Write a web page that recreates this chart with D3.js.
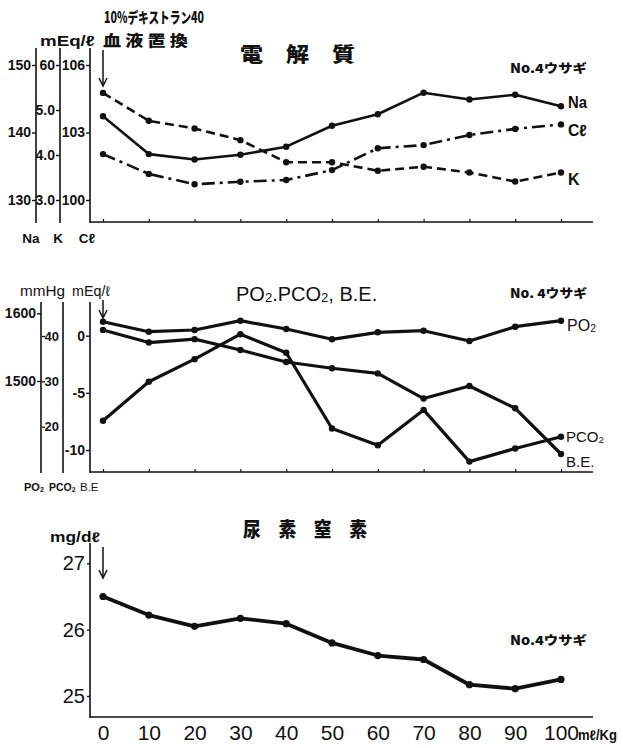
<!DOCTYPE html>
<html>
<head>
<meta charset="utf-8">
<script src="https://cdn.jsdelivr.net/npm/d3@7"></script>
<style>
  html, body { margin: 0; padding: 0; background: #fff; }
  svg { display: block; }
  text { fill: #111; }
</style>
</head>
<body>
<svg id="chart" width="623" height="748"></svg>
<script>
// Infusion volume of 10% dextran 40 (ml/kg), rabbit No.4
const doses = [0, 10, 20, 30, 40, 50, 60, 70, 80, 90, 100];

// Electrolytes (mEq/l)
const naValues = [142.4, 136.8, 136.0, 136.7, 137.9, 141.0, 142.7, 145.9, 144.9, 145.6, 143.9];
const kValues  = [5.38, 4.76, 4.59, 4.33, 3.84, 3.84, 3.65, 3.74, 3.61, 3.41, 3.61];
const clValues = [102.04, 101.16, 100.70, 100.81, 100.89, 101.33, 102.30, 102.44, 102.89, 103.16, 103.36];

// Blood gases
const po2Values  = [1587.6, 1572.8, 1575.3, 1589.1, 1576.8, 1561.6, 1571.9, 1574.3, 1559.1, 1580.2, 1589.1];
const pco2Values = [21.3, 29.9, 34.9, 40.4, 36.3, 19.6, 15.9, 23.7, 12.3, 15.2, 17.8];
const beValues   = [0.5, -0.6, -0.3, -1.25, -2.3, -2.85, -3.3, -5.5, -4.4, -6.35, -10.35];

// Blood urea nitrogen (mg/dl)
const bunValues = [26.5, 26.22, 26.05, 26.17, 26.09, 25.8, 25.61, 25.55, 25.17, 25.11, 25.25];

// Tick labels
const naTicks = [130, 140, 150];
const kTicks = [3, 4, 5, 6];
const kTickLabels = ["3.0", "4.0", "5.0", "60"];
const clTicks = [100, 103, 106];
const po2Ticks = [1500, 1600];
const pco2Ticks = [20, 30, 40];
const beTicks = [-10, -5, 0];
const beTickLabels = ["-10", "-5", "0"];
const bunTicks = [25, 26, 27];
const xTickLabels = ["0", "10", "20", "30", "40", "50", "60", "70", "80", "90", "100"];

const svg = d3.select("#chart");
const JP = "'Noto Sans CJK JP', sans-serif";
const SANS = "'Liberation Sans', Arial, sans-serif";

const x = d3.scaleLinear().domain([0, 100]).range([103, 561]);

// ---------- helpers ----------
function vline(xp, y0, y1, w) {
  svg.append("line").attr("x1", xp).attr("x2", xp).attr("y1", y0).attr("y2", y1)
    .attr("stroke", "#111").attr("stroke-width", w || 1.6);
}
function leftAxis(scale, xp, values, labels, opts) {
  const o = Object.assign({ size: 13, weight: "bold", family: SANS, tick: 4, pad: 1 }, opts || {});
  const g = svg.append("g").attr("transform", `translate(${xp},0)`)
    .call(d3.axisLeft(scale).tickValues(values)
      .tickFormat((d, i) => labels ? labels[i] : d)
      .tickSize(o.tick).tickPadding(o.pad).tickSizeOuter(0));
  g.select(".domain").remove();
  g.selectAll(".tick line").attr("stroke", "#111").attr("stroke-width", 1.4);
  g.selectAll(".tick text").attr("fill", "#111").attr("font-family", o.family)
    .attr("font-size", o.size).attr("font-weight", o.weight);
  return g;
}
function bottomAxis(y, ticks, withLabels) {
  const g = svg.append("g").attr("transform", `translate(0,${y})`)
    .call(d3.axisBottom(x).tickValues(doses)
      .tickSize(ticks ? -3 : 0).tickSizeOuter(0)
      .tickFormat(withLabels ? ((d, i) => xTickLabels[i]) : () => ""));
  g.select(".domain").remove();
  g.append("line").attr("x1", 90).attr("x2", 593).attr("y1", 0).attr("y2", 0)
    .attr("stroke", "#111").attr("stroke-width", 1.6);
  g.selectAll(".tick line").attr("stroke", "#111").attr("stroke-width", 1.2);
  return g;
}
function series(values, scale, opts) {
  const o = Object.assign({ width: 2.6, dash: null, r: 3.2 }, opts || {});
  const pts = doses.map((d, i) => [x(d), scale(values[i])]);
  svg.append("path").datum(pts)
    .attr("d", d3.line())
    .attr("fill", "none").attr("stroke", "#111")
    .attr("stroke-width", o.width).attr("stroke-linejoin", "round")
    .attr("stroke-dasharray", o.dash);
  svg.append("g").selectAll("circle").data(pts).join("circle")
    .attr("cx", d => d[0]).attr("cy", d => d[1]).attr("r", o.r).attr("fill", "#111");
}
function text(t, xp, yp, opts) {
  const o = Object.assign({ size: 13, weight: "bold", family: SANS, anchor: "start" }, opts || {});
  const el = svg.append("text").attr("x", xp).attr("y", yp)
    .attr("font-family", o.family).attr("font-size", o.size).attr("font-weight", o.weight)
    .attr("text-anchor", o.anchor).text(t);
  if (o.len) el.attr("textLength", o.len).attr("lengthAdjust", "spacingAndGlyphs");
  return el;
}
// text with a subscript "2" (natural glyph advance, no stretching)
function subText(parts, xp, yp, opts) {
  const o = Object.assign({ size: 13, weight: "bold", family: SANS, anchor: "start" }, opts || {});
  const el = svg.append("text").attr("x", xp).attr("y", yp)
    .attr("font-family", o.family).attr("font-size", o.size).attr("font-weight", o.weight)
    .attr("text-anchor", o.anchor);
  parts.forEach(p => {
    const ts = el.append("tspan").text(p.t);
    if (p.sub) ts.attr("font-size", o.size * 0.65).attr("dy", 1);
    else if (p.back) ts.attr("dy", -1);
  });
  return el;
}
function arrow(xp, y0, y1) {
  svg.append("line").attr("x1", xp).attr("x2", xp).attr("y1", y0).attr("y2", y1 - 2)
    .attr("stroke", "#111").attr("stroke-width", 1.5);
  svg.append("path")
    .attr("d", `M${xp - 4},${y1 - 8} L${xp},${y1} L${xp + 4},${y1 - 8}`)
    .attr("fill", "none").attr("stroke", "#111").attr("stroke-width", 1.5);
}

// ---------- Panel 1: electrolytes ----------
const yNa = d3.scaleLinear().domain([130, 150]).range([200, 65]);
const yK  = d3.scaleLinear().domain([3, 6]).range([200, 65]);
const yCl = d3.scaleLinear().domain([100, 106]).range([200, 65]);

text("10%デキストラン40", 104, 23, { family: JP, size: 15, weight: 900, len: 100 });
text("mEq/ℓ", 40, 46, { size: 15, len: 55 });
text("血 液 置 換", 103, 46, { family: JP, size: 15, weight: 900, len: 85 });
text("電　解　質", 240, 62, { family: JP, size: 20, weight: 900, len: 115 });
text("No.4ウサギ", 510, 73, { family: JP, size: 12.5, weight: 900, len: 77 });

vline(36, 48, 223);
vline(60, 48, 223);
vline(90, 48, 223);
leftAxis(yNa, 36, naTicks, null, { size: 14 });
leftAxis(yK, 60, kTicks, kTickLabels, { size: 14 });
leftAxis(yCl, 90, clTicks, null, { size: 14 });
bottomAxis(222, true, false);

text("Na", 31, 243, { size: 13.5, anchor: "middle" });
text("K", 58, 243, { size: 13.5, anchor: "middle" });
text("Cℓ", 87, 243, { size: 13.5, anchor: "middle" });

arrow(103, 50, 86);
series(kValues, yK, { width: 2.6, dash: "9,5" });
series(clValues, yCl, { width: 2.6, dash: "13,5,3,5" });
series(naValues, yNa, { width: 2.6 });

text("Na", 568, 108, { size: 16, len: 19 });
text("Cℓ", 568, 136, { size: 16, len: 19 });
text("K", 568, 185, { size: 16 });

// ---------- Panel 2: PO2, PCO2, B.E. ----------
const yPO2  = d3.scaleLinear().domain([1500, 1600]).range([381, 313.3]);
const yPCO2 = d3.scaleLinear().domain([20, 40]).range([426.7, 336]);
const yBE   = d3.scaleLinear().domain([-10, 0]).range([450, 335.7]);

text("mmHg", 20, 296, { size: 15, weight: "normal", len: 45 });
text("mEq/ℓ", 72, 296, { size: 14, weight: "normal", len: 38 });
subText([{ t: "PO" }, { t: "2", sub: true }, { t: ".PCO", back: true }, { t: "2", sub: true }, { t: ", B.E.", back: true }],
  236, 301, { size: 20, weight: "normal" });
text("No. 4ウサギ", 510, 298, { family: JP, size: 12.5, weight: 900, len: 77 });

vline(41, 302, 473);
vline(63, 302, 473);
vline(90, 302, 473);
leftAxis(yPO2, 41, po2Ticks, null, { size: 14 });
const gPCO2 = leftAxis(yPCO2, 63, pco2Ticks, null, { size: 13, tick: 0, pad: 4 });
// leader marks in front of the PCO2 tick labels
gPCO2.selectAll(".tick").append("line")
  .attr("x1", -21).attr("x2", -18).attr("y1", 0).attr("y2", 0)
  .attr("stroke", "#111").attr("stroke-width", 1.3);
leftAxis(yBE, 90, beTicks, beTickLabels, { size: 14 });
bottomAxis(472, true, false);

subText([{ t: "PO" }, { t: "2", sub: true }], 24, 491, { size: 11 });
subText([{ t: "PCO" }, { t: "2", sub: true }], 49, 491, { size: 10.5 });
text("B.E", 80, 491, { size: 11.5, weight: "normal" });

arrow(103, 300, 318);
series(po2Values, yPO2, { width: 3.2 });
series(pco2Values, yPCO2, { width: 3.2 });
series(beValues, yBE, { width: 3.2 });

subText([{ t: "PO" }, { t: "2", sub: true }], 567, 331, { size: 16, weight: "normal" });
subText([{ t: "PCO" }, { t: "2", sub: true }], 566, 442, { size: 15, weight: "normal" });
text("B.E.", 566, 467, { size: 15, weight: "normal" });

// ---------- Panel 3: urea nitrogen ----------
const yBUN = d3.scaleLinear().domain([25, 27]).range([696, 563.3]);

text("mg/dℓ", 50, 542, { size: 14, len: 50 });
text("尿　素　窒　素", 243, 537, { family: JP, size: 20, weight: 900, len: 124 });
text("No.4ウサギ", 510, 645, { family: JP, size: 12.5, weight: 900, len: 77 });

vline(90, 543, 718);
leftAxis(yBUN, 90, bunTicks, null, { size: 20, weight: "normal", tick: 3, pad: 2 });
const gx = bottomAxis(717, false, true);
gx.selectAll(".tick text").attr("fill", "#111").attr("font-family", SANS)
  .attr("font-size", 21).attr("y", 23).attr("dy", 0);
svg.append("text").attr("x", 578).attr("y", 740)
  .attr("font-family", SANS).attr("font-size", 14).attr("font-weight", "bold")
  .attr("textLength", 39).attr("lengthAdjust", "spacingAndGlyphs").text("mℓ/Kg");

arrow(103, 547, 578);
series(bunValues, yBUN, { width: 3.8, r: 3.6 });
</script>
</body>
</html>
